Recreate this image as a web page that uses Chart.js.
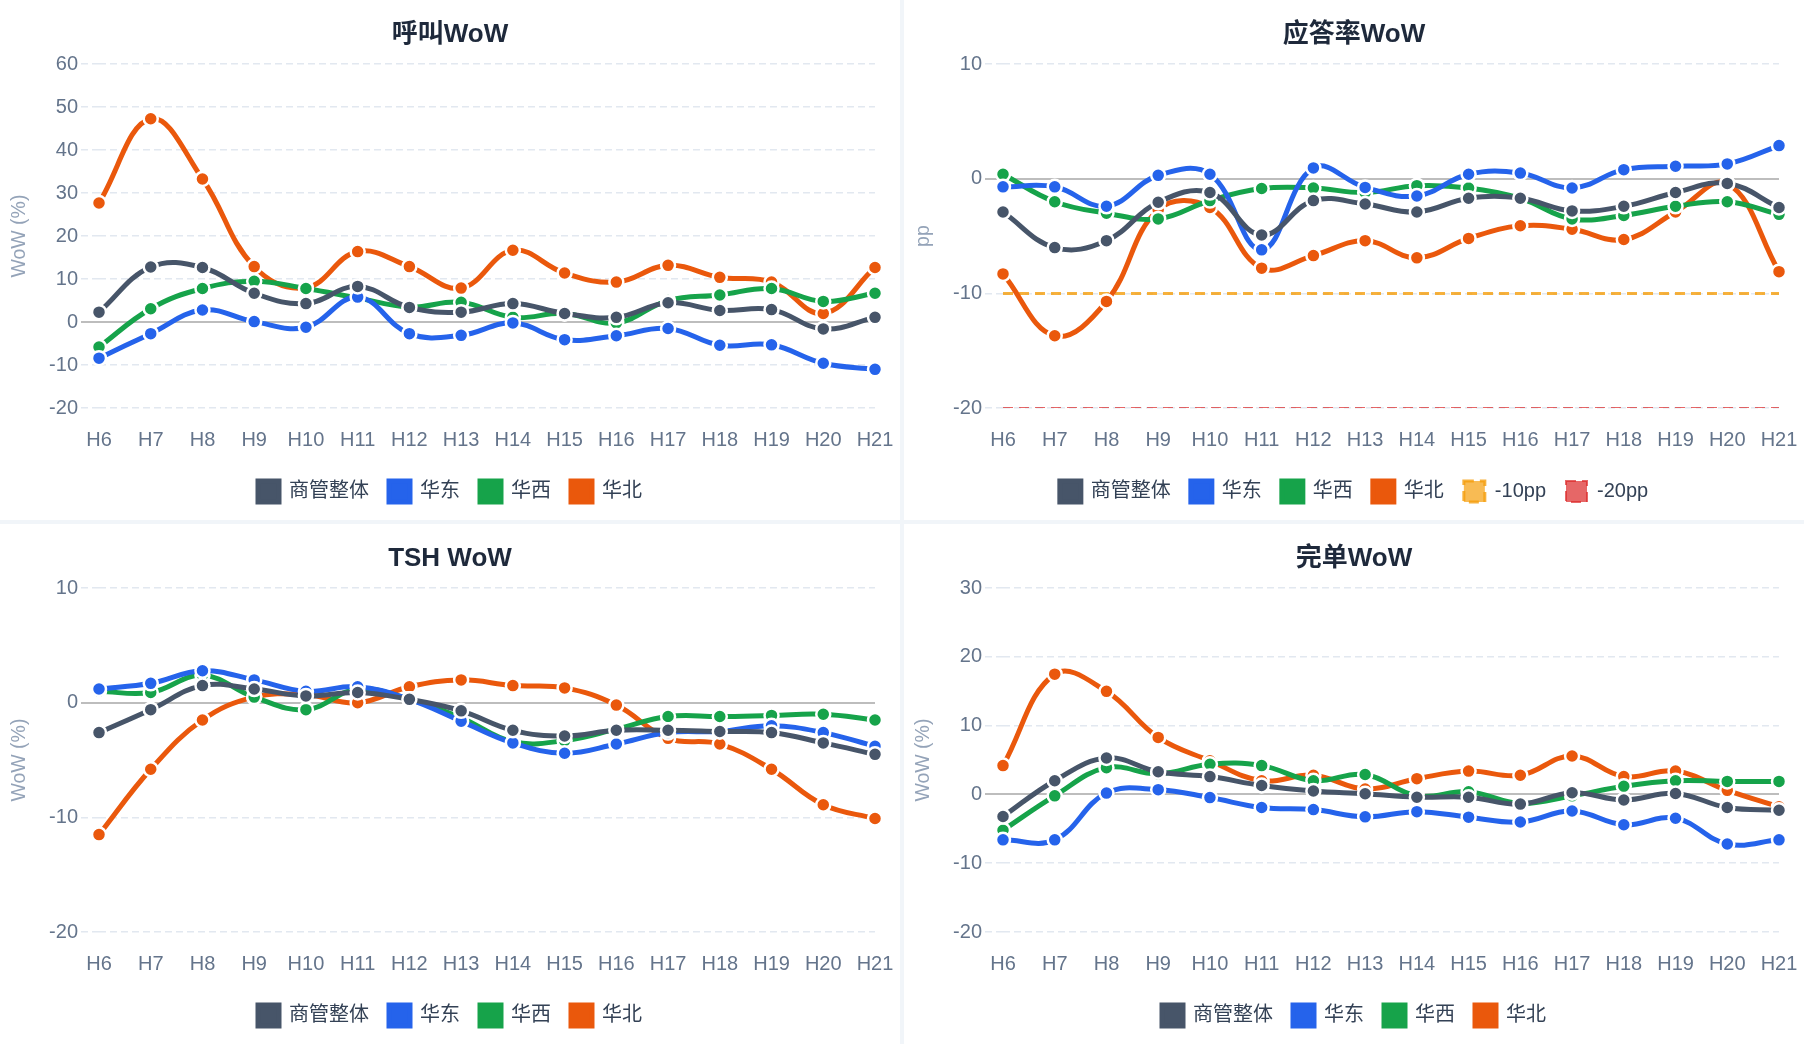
<!DOCTYPE html>
<html>
<head>
<meta charset="utf-8">
<title>WoW</title>
<script src="https://cdn.jsdelivr.net/npm/chart.js@4.4.1/dist/chart.umd.min.js"></script>
<style>
    html, body { margin: 0; padding: 0; background: #f1f5f9; }
    #grid {
        display: grid;
        grid-template-columns: 900px 900px;
        grid-template-rows: 520px 520px;
        gap: 4px;
        width: 1804px;
        height: 1044px;
    }
    .panel { background: #fff; position: relative; }
</style>
</head>
<body>
<div id="grid">
    <div class="panel"><canvas id="callChart"></canvas></div>
    <div class="panel"><canvas id="answerChart"></canvas></div>
    <div class="panel"><canvas id="tshChart"></canvas></div>
    <div class="panel"><canvas id="doneChart"></canvas></div>
</div>
<script>
const HOURS = ['H6', 'H7', 'H8', 'H9', 'H10', 'H11', 'H12', 'H13', 'H14', 'H15', 'H16', 'H17', 'H18', 'H19', 'H20', 'H21'];
const SERIES_NAMES = ['商管整体', '华东', '华西', '华北'];
const SERIES_COLORS = ['#475569', '#2563eb', '#16a34a', '#ea580c'];

// 呼叫WoW (%)
const CALL_TOTAL = [2.3, 12.8, 12.7, 6.7, 4.3, 8.3, 3.4, 2.3, 4.3, 2.0, 1.1, 4.5, 2.7, 2.9, -1.6, 1.1];
const CALL_EAST  = [-8.4, -2.7, 2.8, 0.1, -1.2, 5.8, -2.7, -3.1, -0.2, -4.1, -3.2, -1.5, -5.4, -5.3, -9.6, -11.0];
const CALL_WEST  = [-5.8, 3.1, 7.8, 9.5, 7.8, 5.6, 3.5, 4.6, 1.1, 2.0, -0.2, 5.0, 6.3, 7.8, 4.8, 6.7];
const CALL_NORTH = [27.7, 47.3, 33.3, 12.9, 8.0, 16.4, 12.9, 7.9, 16.7, 11.4, 9.3, 13.2, 10.4, 9.3, 2.0, 12.7];

// 应答率WoW (pp)
const ANSWER_TOTAL = [-2.9, -6.0, -5.4, -2.05, -1.2, -4.9, -1.9, -2.2, -2.9, -1.7, -1.7, -2.8, -2.4, -1.2, -0.4, -2.5];
const ANSWER_EAST  = [-0.7, -0.7, -2.4, 0.3, 0.4, -6.2, 0.95, -0.75, -1.5, 0.4, 0.5, -0.8, 0.8, 1.1, 1.3, 2.9];
const ANSWER_WEST  = [0.4, -2.0, -3.0, -3.5, -1.9, -0.85, -0.8, -1.2, -0.6, -0.8, -1.7, -3.5, -3.2, -2.4, -2.0, -3.1];
const ANSWER_NORTH = [-8.3, -13.7, -10.7, -2.7, -2.5, -7.8, -6.7, -5.4, -6.9, -5.2, -4.1, -4.4, -5.3, -2.9, -0.4, -8.1];
const LIMIT_10PP = [-10, -10, -10, -10, -10, -10, -10, -10, -10, -10, -10, -10, -10, -10, -10, -10];
const LIMIT_20PP = [-20, -20, -20, -20, -20, -20, -20, -20, -20, -20, -20, -20, -20, -20, -20, -20];

// TSH WoW (%)
const TSH_TOTAL = [-2.6, -0.6, 1.5, 1.2, 0.6, 0.9, 0.3, -0.7, -2.4, -2.9, -2.4, -2.4, -2.5, -2.6, -3.5, -4.5];
const TSH_EAST  = [1.2, 1.7, 2.8, 2.0, 1.0, 1.4, 0.3, -1.6, -3.5, -4.4, -3.6, -2.6, -2.5, -2.0, -2.6, -3.8];
const TSH_WEST  = [1.0, 0.9, 2.4, 0.5, -0.6, 1.2, 0.3, -1.3, -3.4, -3.3, -2.3, -1.2, -1.2, -1.1, -1.0, -1.5];
const TSH_NORTH = [-11.5, -5.8, -1.5, 0.5, 0.7, 0.0, 1.4, 2.0, 1.5, 1.3, -0.2, -3.1, -3.6, -5.8, -8.9, -10.1];

// 完单WoW (%)
const DONE_TOTAL = [-3.2, 2.0, 5.3, 3.3, 2.6, 1.3, 0.5, 0.1, -0.4, -0.4, -1.4, 0.25, -0.8, 0.15, -1.9, -2.3];
const DONE_EAST  = [-6.6, -6.6, 0.2, 0.7, -0.45, -1.9, -2.2, -3.25, -2.5, -3.3, -4.0, -2.4, -4.4, -3.45, -7.2, -6.6];
const DONE_WEST  = [-5.2, -0.2, 3.9, 3.0, 4.4, 4.2, 2.0, 2.9, -0.2, 0.4, -1.3, -0.2, 1.2, 2.0, 1.9, 1.9];
const DONE_NORTH = [4.2, 17.5, 15.0, 8.3, 4.9, 2.0, 2.8, 0.8, 2.3, 3.4, 2.8, 5.6, 2.6, 3.4, 0.6, -1.8];

Chart.defaults.font.family = "'Liberation Sans', 'Noto Sans CJK SC', sans-serif";
Chart.defaults.animation = false;

const isZero = (ctx) => ctx.tick && ctx.tick.value === 0;
const gridDash = (ctx) => isZero(ctx) ? [] : [7, 4];

const seriesDatasets = (values) => values.map((data, i) => ({
    label: SERIES_NAMES[i],
    data: data,
    borderColor: SERIES_COLORS[i],
    backgroundColor: SERIES_COLORS[i],
    borderWidth: 5,
    tension: 0.4,
    pointRadius: 7,
    pointHoverRadius: 7,
    pointBorderWidth: 2.5,
    pointBackgroundColor: SERIES_COLORS[i],
    pointBorderColor: '#fff'
}));

const limitDataset = (label, data, color, fill, width) => ({
    label: label,
    data: data,
    borderColor: color,
    backgroundColor: fill,
    borderWidth: width,
    borderDash: [10, 6],
    pointRadius: 0,
    pointHoverRadius: 0,
    tension: 0
});

const renderChart = (id, title, yTitle, yMin, yMax, datasets) => {
    new Chart(document.getElementById(id), {
        type: 'line',
        data: { labels: HOURS, datasets: datasets },
        options: {
            responsive: true,
            maintainAspectRatio: false,
            layout: { padding: { left: 0, right: 0, top: 0, bottom: 8 } },
            plugins: {
                title: {
                    display: true,
                    text: title,
                    color: '#1e293b',
                    font: { size: 26, weight: 'bold' },
                    padding: { top: 19, bottom: 14 }
                },
                legend: {
                    position: 'bottom',
                    labels: {
                        boxWidth: 21,
                        boxHeight: 21,
                        padding: 20,
                        color: '#334155',
                        font: { size: 20 }
                    }
                },
                tooltip: { enabled: false }
            },
            scales: {
                x: {
                    afterFit: (scale) => { scale.height -= 11; scale.paddingRight = 25; },
                    grid: { display: false, drawTicks: false },
                    border: { display: false },
                    ticks: { color: '#64748b', font: { size: 20 }, padding: 20, maxRotation: 0, autoSkip: false }
                },
                y: {
                    min: yMin,
                    max: yMax,
                    afterFit: (scale) => { scale.width = 99; },
                    ticks: { stepSize: 10, color: '#64748b', font: { size: 20 }, padding: 3 },
                    grid: {
                        color: (ctx) => isZero(ctx) ? '#bdbdbd' : '#e2e8f0',
                        lineWidth: (ctx) => isZero(ctx) ? 2 : 1.5,
                        tickLength: 18,
                        tickBorderDash: gridDash
                    },
                    border: { display: false, dash: gridDash },
                    title: {
                        display: true,
                        text: yTitle,
                        color: '#94a3b8',
                        font: { size: 19.5 },
                        padding: { top: 8, bottom: 0 }
                    }
                }
            }
        }
    });
};

renderChart('callChart', '呼叫WoW', 'WoW (%)', -20, 60,
    seriesDatasets([CALL_TOTAL, CALL_EAST, CALL_WEST, CALL_NORTH]));

renderChart('answerChart', '应答率WoW', 'pp', -20, 10,
    seriesDatasets([ANSWER_TOTAL, ANSWER_EAST, ANSWER_WEST, ANSWER_NORTH]).concat([
        limitDataset('-10pp', LIMIT_10PP, 'rgba(245, 158, 11, 0.8)', 'rgba(245, 158, 11, 0.7)', 3),
        limitDataset('-20pp', LIMIT_20PP, 'rgba(220, 38, 38, 0.7)', 'rgba(220, 38, 38, 0.7)', 2)
    ]));

renderChart('tshChart', 'TSH WoW', 'WoW (%)', -20, 10,
    seriesDatasets([TSH_TOTAL, TSH_EAST, TSH_WEST, TSH_NORTH]));

renderChart('doneChart', '完单WoW', 'WoW (%)', -20, 30,
    seriesDatasets([DONE_TOTAL, DONE_EAST, DONE_WEST, DONE_NORTH]));
</script>
</body>
</html>
